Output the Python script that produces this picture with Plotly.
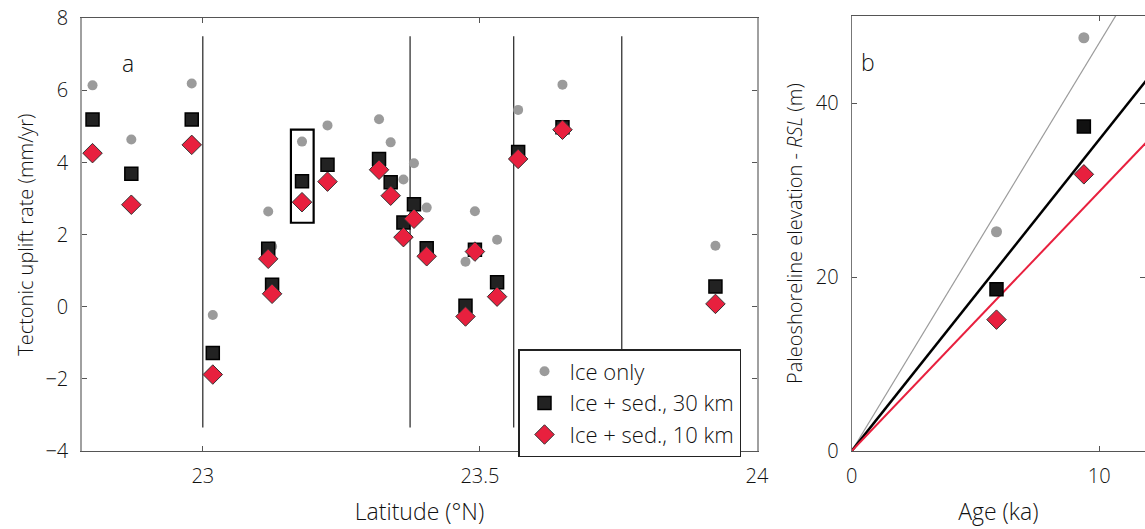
import plotly.graph_objects as go

# ---------------- Panel a data ----------------
latitude = [22.801, 22.871, 22.980, 23.018, 23.118, 23.125, 23.179, 23.225, 23.318,
            23.339, 23.362, 23.381, 23.404, 23.474, 23.491, 23.531, 23.569, 23.649, 23.925]
ice_only = [6.14, 4.64, 6.19, -0.23, 2.64, 1.67, 4.58, 5.03, 5.20,
            4.56, 3.53, 3.98, 2.75, 1.25, 2.65, 1.86, 5.46, 6.16, 1.69]
ice_sed_30 = [5.19, 3.69, 5.19, -1.28, 1.61, 0.61, 3.48, 3.94, 4.10,
              3.45, 2.34, 2.84, 1.62, 0.03, 1.58, 0.68, 4.29, 4.98, 0.56]
ice_sed_10 = [4.26, 2.83, 4.49, -1.88, 1.33, 0.36, 2.90, 3.47, 3.80,
              3.08, 1.93, 2.44, 1.40, -0.27, 1.53, 0.28, 4.10, 4.91, 0.08]

segment_boundaries = [23.0, 23.374, 23.561, 23.756]
boundary_extent = [-3.35, 7.5]
highlight_lat = [23.159, 23.200]
highlight_rate = [2.33, 4.91]

lat_ticks = [23, 23.5, 24]
rate_ticks = [-4, -2, 0, 2, 4, 6, 8]

# ---------------- Panel b data ----------------
age_ka = [5.85, 9.38]
elev_ice_only = [25.2, 47.5]
elev_sed_30 = [18.6, 37.3]
elev_sed_10 = [15.1, 31.8]
fit_ages = [0, 12]
fit_rate_ice_only = 4.69
fit_rate_sed_30 = 3.58
fit_rate_sed_10 = 2.98

age_ticks = [0, 10]
elev_ticks = [0, 20, 40]

GRAY = "#9b9b9b"
RED = "#e8203e"
FONT = "Open Sans"
TXT = "#111111"
WT = 350

fig = go.Figure()

# boundaries
bx, by = [], []
for b in segment_boundaries:
    bx += [b, b, None]
    by += [boundary_extent[0], boundary_extent[1], None]
fig.add_trace(go.Scatter(x=bx, y=by, mode="lines", line=dict(color="#222", width=1.2),
                         showlegend=False, hoverinfo="skip", xaxis="x", yaxis="y"))

fig.add_trace(go.Scatter(x=latitude, y=ice_only, mode="markers", name="Ice only",
                         marker=dict(symbol="circle", size=10, color=GRAY),
                         xaxis="x", yaxis="y"))
fig.add_trace(go.Scatter(x=latitude, y=ice_sed_30, mode="markers", name="Ice + sed., 30 km",
                         marker=dict(symbol="square", size=13, color="#222",
                                     line=dict(color="#000", width=1.5)),
                         xaxis="x", yaxis="y"))
fig.add_trace(go.Scatter(x=latitude, y=ice_sed_10, mode="markers", name="Ice + sed., 10 km",
                         marker=dict(symbol="diamond", size=15, color=RED,
                                     line=dict(color="#333", width=1)),
                         xaxis="x", yaxis="y"))

# panel b lines
for rate, col, w in [(fit_rate_ice_only, GRAY, 1.2), (fit_rate_sed_30, "#000", 2.5),
                     (fit_rate_sed_10, RED, 2)]:
    fig.add_trace(go.Scatter(x=fit_ages, y=[rate * a for a in fit_ages], mode="lines",
                             line=dict(color=col, width=w), showlegend=False,
                             hoverinfo="skip", xaxis="x2", yaxis="y2"))
fig.add_trace(go.Scatter(x=age_ka, y=elev_ice_only, mode="markers", showlegend=False,
                         marker=dict(symbol="circle", size=11, color=GRAY),
                         xaxis="x2", yaxis="y2"))
fig.add_trace(go.Scatter(x=age_ka, y=elev_sed_30, mode="markers", showlegend=False,
                         marker=dict(symbol="square", size=13, color="#111",
                                     line=dict(color="#000", width=1.5)),
                         xaxis="x2", yaxis="y2"))
fig.add_trace(go.Scatter(x=age_ka, y=elev_sed_10, mode="markers", showlegend=False,
                         marker=dict(symbol="diamond", size=15, color=RED,
                                     line=dict(color="#333", width=1)),
                         xaxis="x2", yaxis="y2"))

fig.add_shape(type="rect", xref="x", yref="y",
              x0=highlight_lat[0], x1=highlight_lat[1],
              y0=highlight_rate[0], y1=highlight_rate[1],
              line=dict(color="#000", width=2.2))

W, H = 1145, 529
common = dict(showgrid=False, zeroline=False, showline=True, mirror="ticks",
              ticks="inside", ticklen=5, tickcolor="#555", automargin=False,
              tickfont=dict(family=FONT, size=20, color=TXT, weight=WT))
xtfont = dict(family=FONT, size=23, color=TXT, weight=WT)
ytfont = dict(family=FONT, size=20, color=TXT, weight=WT)

fig.update_layout(
    width=W, height=H, margin=dict(l=0, r=0, t=0, b=0),
    paper_bgcolor="white", plot_bgcolor="white",
    font=dict(family=FONT, size=20, color=TXT, weight=WT),
    xaxis=dict(domain=[82 / W, 757 / W], range=[22.782, 24.0], tickvals=lat_ticks,
               ticktext=["23", "23.5", "24"], linecolor="#555", linewidth=1.2,
               ticklabelstandoff=7,
               title=dict(text="Latitude (°N)", standoff=15, font=xtfont),
               anchor="y", **common),
    yaxis=dict(domain=[1 - 451 / H, 1 - 18.3 / H], range=[-4, 8], tickvals=rate_ticks,
               linecolor="#a0a0a0", linewidth=1.5, ticklabelstandoff=8,
               title=dict(text="Tectonic uplift rate (mm/yr)", standoff=6, font=ytfont),
               anchor="x", **common),
    xaxis2=dict(domain=[851.7 / W, 1.0], range=[0, 11.85], tickvals=age_ticks,
                linecolor="#555", linewidth=1.2, ticklabelstandoff=7,
                title=dict(text="Age (ka)", standoff=15, font=xtfont),
                anchor="y2", **common),
    yaxis2=dict(domain=[1 - 451 / H, 1 - 16 / H], range=[0, 50], tickvals=elev_ticks,
                linecolor="#777", linewidth=1.2, ticklabelstandoff=8,
                title=dict(text="Paleoshoreline elevation - <i>RSL</i> (m)", standoff=7,
                           font=ytfont),
                anchor="x2", **common),
    legend=dict(x=518 / W, y=1 - 349 / H, xanchor="left", yanchor="top",
                bgcolor="white", bordercolor="#222", borderwidth=1.5,
                font=dict(family=FONT, size=22, color=TXT, weight=WT),
                itemsizing="trace", itemwidth=40),
    annotations=[
        dict(text="a", xref="paper", yref="paper", x=120 / W, y=1 - 45 / H,
             showarrow=False, font=dict(family=FONT, size=23, color=TXT, weight=WT)),
        dict(text="b", xref="paper", yref="paper", x=877 / W, y=1 - 44 / H,
             showarrow=False, font=dict(family=FONT, size=23, color=TXT, weight=WT)),
    ],
)

fig.write_html("out.html")
